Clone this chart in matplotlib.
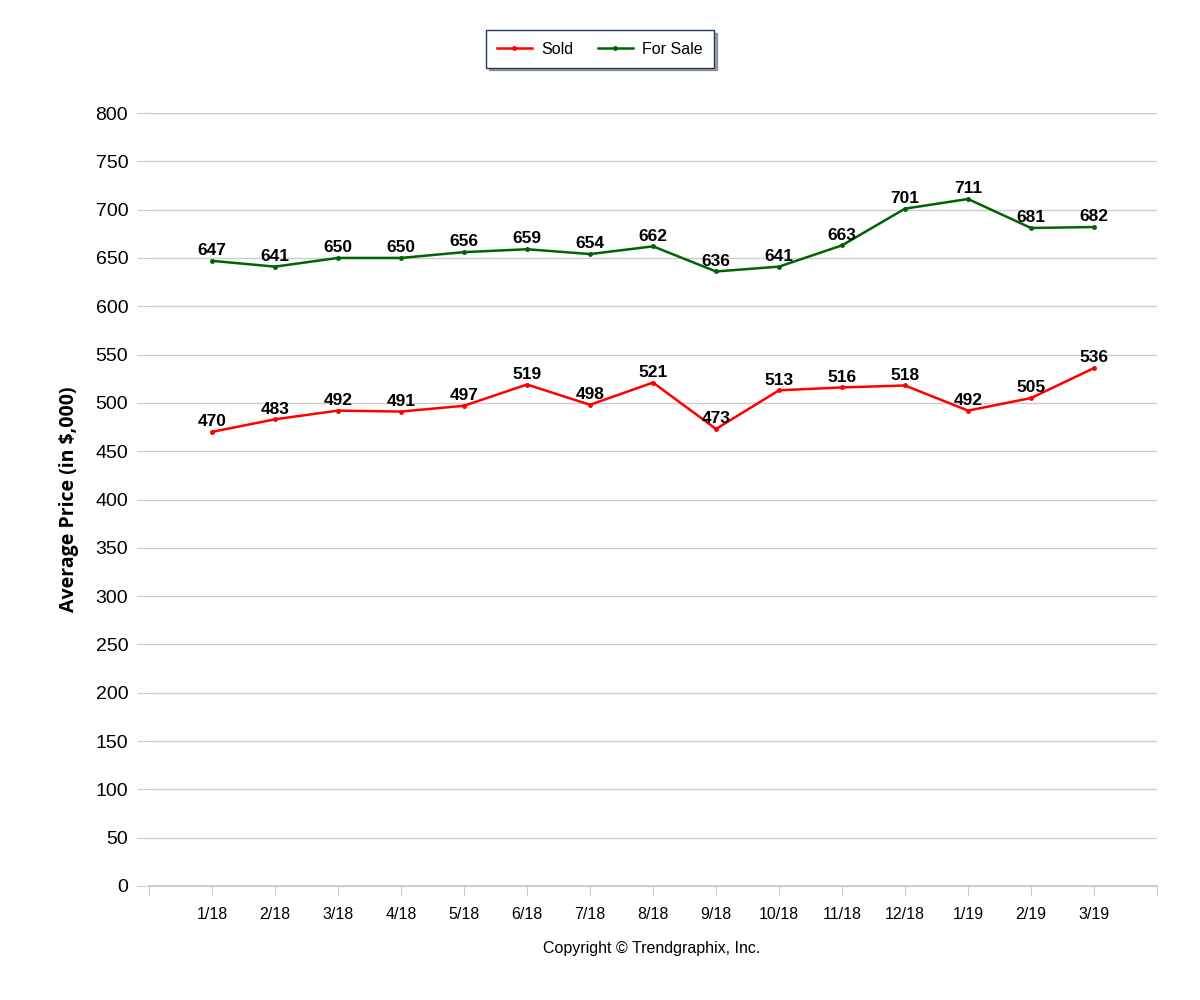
import matplotlib.pyplot as plt
import numpy as np

months = ["1/18", "2/18", "3/18", "4/18", "5/18", "6/18", "7/18", "8/18",
          "9/18", "10/18", "11/18", "12/18", "1/19", "2/19", "3/19"]
sold = [470, 483, 492, 491, 497, 519, 498, 521, 473, 513, 516, 518, 492, 505, 536]
for_sale = [647, 641, 650, 650, 656, 659, 654, 662, 636, 641, 663, 701, 711, 681, 682]
yticks = list(range(0, 801, 50))

plt.rcParams['font.family'] = ['Liberation Sans', 'DejaVu Sans']

fig = plt.figure(figsize=(12, 10), dpi=100)
ax = fig.add_axes([149/1200, 1 - 886/1000, 1008/1200, 773/1000])

x = np.arange(1, len(months) + 1)
ax.plot(x, sold, color='#ff0000', lw=1.8, marker='o', ms=2.5, label='Sold')
ax.plot(x, for_sale, color='#006400', lw=1.8, marker='o', ms=2.5, label='For Sale')

for xi, v in zip(x, sold):
    ax.annotate(str(v), (xi, v), xytext=(0, 2), textcoords='offset points',
                ha='center', va='bottom', fontsize=12.5, fontweight='bold')
for xi, v in zip(x, for_sale):
    ax.annotate(str(v), (xi, v), xytext=(0, 2), textcoords='offset points',
                ha='center', va='bottom', fontsize=12.5, fontweight='bold')

ax.set_xlim(0, len(months) + 1)
ax.set_ylim(0, 800)
ax.set_xticks(np.arange(0, len(months) + 2))
ax.set_xticklabels([""] + months + [""], fontsize=11.5)
ax.set_yticks(yticks)
ax.set_yticklabels([str(t) for t in yticks], fontsize=14)
ax.grid(axis='y', color='#cccccc', lw=1)
ax.set_axisbelow(True)
for s in ['top', 'right', 'left']:
    ax.spines[s].set_visible(False)
ax.spines['bottom'].set_color('#cccccc')
ax.spines['bottom'].set_linewidth(1.5)
ax.tick_params(axis='y', length=9, color='#cccccc', pad=6)
ax.tick_params(axis='x', length=7, color='#cccccc', pad=8)

ax.set_ylabel("Average Price (in $,000)", fontsize=14, fontweight='bold',
              family=['Open Sans', 'DejaVu Sans'], labelpad=12)

fig.legend(loc='center', bbox_to_anchor=(600/1200, 1 - 49/1000), ncol=2,
           fontsize=11.5, frameon=True, fancybox=False, shadow=True,
           edgecolor='#1f3864', handlelength=2.2, columnspacing=1.5,
           handletextpad=0.6, borderpad=0.7)

fig.text(652/1200, 1 - 949/1000, "Copyright \u00a9 Trendgraphix, Inc.",
         ha='center', va='center', fontsize=11.5)

fig.savefig('out.png', dpi=100)
